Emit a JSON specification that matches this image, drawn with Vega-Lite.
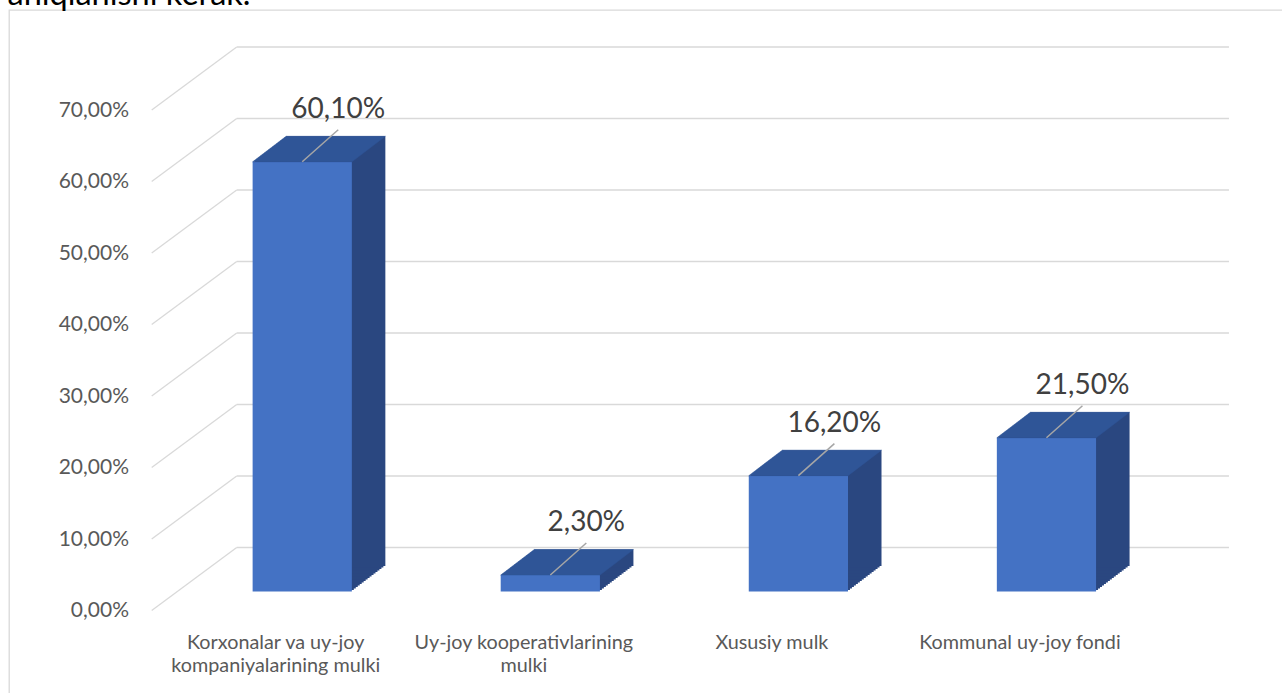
{
  "$schema": "https://vega.github.io/schema/vega-lite/v6.json",
  "autosize": {"type": "none"},
  "padding": {"left": 9, "top": 10, "right": 0, "bottom": 0},
  "width": 1275,
  "height": 700,
  "background": "#ffffff",
  "datasets": {
    "bars": [
      {"cat": "Korxonalar va uy-joy kompaniyalarining mulki", "value": 0.601},
      {"cat": "Uy-joy kooperativlarining mulki", "value": 0.023},
      {"cat": "Xususiy mulk", "value": 0.162},
      {"cat": "Kommunal uy-joy fondi", "value": 0.215}
    ],
    "ticks": [{"t": 0}, {"t": 0.1}, {"t": 0.2}, {"t": 0.3}, {"t": 0.4}, {"t": 0.5}, {"t": 0.6}, {"t": 0.7}]
  },
  "encoding": {
    "x": {
      "field": "cat", "type": "nominal",
      "scale": {"domain": ["Korxonalar va uy-joy kompaniyalarining mulki", "Uy-joy kooperativlarining mulki", "Xususiy mulk", "Kommunal uy-joy fondi"], "range": [142.7, 1135], "paddingInner": 0.6, "paddingOuter": 0.3, "round": false},
      "axis": {
        "title": null,
        "labelExpr": "datum.label == 'Korxonalar va uy-joy kompaniyalarining mulki' ? ['Korxonalar va uy-joy', 'kompaniyalarining mulki'] : datum.label == 'Uy-joy kooperativlarining mulki' ? ['Uy-joy kooperativlarining', 'mulki'] : datum.label"
      }
    },
    "y": {
      "field": "value", "type": "quantitative",
      "scale": {"domain": [0, 0.7], "range": [600.5, 100], "nice": false, "zero": true},
      "axis": {
        "title": "aniqlanishi kerak.",
        "values": [0, 0.1, 0.2, 0.3, 0.4, 0.5, 0.6, 0.7],
        "labelExpr": "replace(format(datum.value, '.2%'), '.', ',')"
      }
    }
  },
  "layer": [
    {
      "data": {"name": "ticks"},
      "mark": {"type": "rule", "color": "#d9d9d9", "strokeWidth": 1.3, "xOffset": -124.04, "x2Offset": -39.04, "y2Offset": -63},
      "encoding": {
        "x": {"datum": "Korxonalar va uy-joy kompaniyalarining mulki", "type": "nominal", "axis": {"title": null}},
        "x2": {"datum": "Korxonalar va uy-joy kompaniyalarining mulki"},
        "y": {"field": "t", "type": "quantitative", "axis": {"title": "aniqlanishi kerak."}},
        "y2": {"field": "t"}
      }
    },
    {
      "data": {"name": "ticks"},
      "mark": {"type": "rule", "color": "#d9d9d9", "strokeWidth": 1.3, "xOffset": -39.04, "x2Offset": 209, "yOffset": -63},
      "encoding": {
        "x": {"datum": "Korxonalar va uy-joy kompaniyalarining mulki", "type": "nominal", "axis": {"title": null}},
        "x2": {"datum": "Kommunal uy-joy fondi"},
        "y": {"field": "t", "type": "quantitative", "axis": {"title": "aniqlanishi kerak."}}
      }
    },
    {"data": {"name": "bars"}, "mark": {"type": "bar", "color": "#2a4780", "xOffset": 28.47, "yOffset": -20.5, "y2Offset": -20.5}, "encoding": {"y2": {"datum": 0}}},
    {"data": {"name": "bars"}, "mark": {"type": "bar", "color": "#2a4780", "xOffset": 30.44, "yOffset": -22, "y2Offset": -22}, "encoding": {"y2": {"datum": 0}}},
    {"data": {"name": "bars"}, "mark": {"type": "bar", "color": "#2a4780", "xOffset": 32.41, "yOffset": -23.5, "y2Offset": -23.5}, "encoding": {"y2": {"datum": 0}}},
    {"data": {"name": "bars"}, "mark": {"type": "bar", "color": "#2a4780", "xOffset": 34.38, "yOffset": -25, "y2Offset": -25}, "encoding": {"y2": {"datum": 0}}},
    {"data": {"name": "bars"}, "mark": {"type": "bar", "color": "#2a4780", "xOffset": 36.35, "yOffset": -26.5, "y2Offset": -26.5}, "encoding": {"y2": {"datum": 0}}},
    {"data": {"name": "bars"}, "mark": {"type": "bar", "color": "#2a4780", "xOffset": 38.32, "yOffset": -28, "y2Offset": -28}, "encoding": {"y2": {"datum": 0}}},
    {"data": {"name": "bars"}, "mark": {"type": "bar", "color": "#2a4780", "xOffset": 40.29, "yOffset": -29.5, "y2Offset": -29.5}, "encoding": {"y2": {"datum": 0}}},
    {"data": {"name": "bars"}, "mark": {"type": "bar", "color": "#2a4780", "xOffset": 42.26, "yOffset": -31, "y2Offset": -31}, "encoding": {"y2": {"datum": 0}}},
    {"data": {"name": "bars"}, "mark": {"type": "bar", "color": "#2a4780", "xOffset": 44.23, "yOffset": -32.5, "y2Offset": -32.5}, "encoding": {"y2": {"datum": 0}}},
    {"data": {"name": "bars"}, "mark": {"type": "bar", "color": "#2a4780", "xOffset": 46.2, "yOffset": -34, "y2Offset": -34}, "encoding": {"y2": {"datum": 0}}},
    {"data": {"name": "bars"}, "mark": {"type": "bar", "color": "#2a4780", "xOffset": 48.17, "yOffset": -35.5, "y2Offset": -35.5}, "encoding": {"y2": {"datum": 0}}},
    {"data": {"name": "bars"}, "mark": {"type": "bar", "color": "#2a4780", "xOffset": 50.14, "yOffset": -37, "y2Offset": -37}, "encoding": {"y2": {"datum": 0}}},
    {"data": {"name": "bars"}, "mark": {"type": "bar", "color": "#2a4780", "xOffset": 52.11, "yOffset": -38.5, "y2Offset": -38.5}, "encoding": {"y2": {"datum": 0}}},
    {"data": {"name": "bars"}, "mark": {"type": "bar", "color": "#2a4780", "xOffset": 54.08, "yOffset": -40, "y2Offset": -40}, "encoding": {"y2": {"datum": 0}}},
    {"data": {"name": "bars"}, "mark": {"type": "bar", "color": "#2a4780", "xOffset": 56.05, "yOffset": -41.5, "y2Offset": -41.5}, "encoding": {"y2": {"datum": 0}}},
    {"data": {"name": "bars"}, "mark": {"type": "bar", "color": "#2a4780", "xOffset": 58.02, "yOffset": -43, "y2Offset": -43}, "encoding": {"y2": {"datum": 0}}},
    {"data": {"name": "bars"}, "mark": {"type": "bar", "color": "#2a4780", "xOffset": 60, "yOffset": -44.5, "y2Offset": -44.5}, "encoding": {"y2": {"datum": 0}}},
    {"data": {"name": "bars"}, "mark": {"type": "bar", "color": "#4472c4", "xOffset": 26.5, "yOffset": -19, "y2Offset": -19}, "encoding": {"y2": {"datum": 0}}},
    {
      "data": {"name": "bars"},
      "mark": {"type": "point", "shape": "M-0.992,0L0.992,0L1.662,-0.51L-0.322,-0.51Z", "size": 10000, "filled": true, "opacity": 1, "color": "#2f5597", "stroke": "#2f5597", "strokeWidth": 0.5, "xOffset": 26.5, "yOffset": -19}
    },
    {
      "data": {"name": "bars"},
      "mark": {"type": "rule", "color": "#a6a6a6", "strokeWidth": 1.5, "xOffset": 26.5, "x2Offset": 62.5, "yOffset": -19, "y2Offset": -51},
      "encoding": {
        "x2": {"field": "cat"},
        "y2": {"field": "value"}
      }
    },
    {
      "data": {"name": "bars"},
      "transform": [{"calculate": "replace(format(datum.value, '.2%'), '.', ',')", "as": "lbl"}],
      "mark": {"type": "text", "font": "Lato", "fontSize": 28, "color": "#404040", "align": "center", "baseline": "alphabetic", "xOffset": 62.5, "yOffset": -63},
      "encoding": {
        "text": {"field": "lbl"}
      }
    }
  ],
  "config": {
    "view": {"stroke": "#d9d9d9", "strokeWidth": 1.3, "fill": "#ffffff"},
    "axisX": {"orient": "bottom", "domain": false, "ticks": false, "tickSize": 0, "grid": false, "offset": -61.7, "labelPadding": 0, "labelBaseline": "alphabetic", "labelAngle": 0, "labelFont": "Lato", "labelFontSize": 19.8, "labelColor": "#595959", "labelLineHeight": 23.6, "labelLimit": 400},
    "axisY": {"orient": "left", "domain": false, "ticks": false, "tickSize": 0, "grid": false, "offset": -119.5, "labelPadding": 0, "labelAlign": "right", "labelBaseline": "middle", "labelFont": "Lato", "labelFontSize": 21, "labelColor": "#595959",
      "titleX": -121.5, "titleY": -6, "titleAngle": 0, "titleAlign": "left", "titleBaseline": "alphabetic", "titleFont": "Lato", "titleFontSize": 32.5, "titleFontWeight": "normal", "titleColor": "#000000", "titleLimit": 600}
  }
}
